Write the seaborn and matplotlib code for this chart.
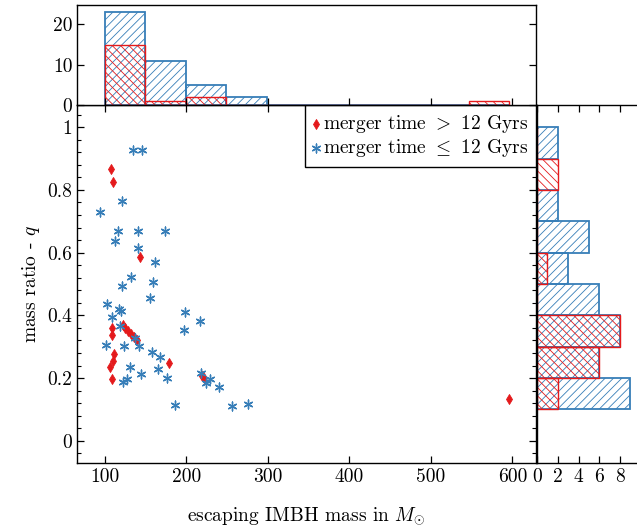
import numpy as np
import matplotlib
matplotlib.use("Agg")
import matplotlib.pyplot as plt
import seaborn as sns
from matplotlib.ticker import MultipleLocator

# ---------------- data ----------------
red_mass = [107.5, 110, 143.5, 108.5, 108.5, 122, 125, 128.5, 132, 136, 139.5,
            111.5, 110, 106, 109, 179, 219.5, 222, 596]
red_q = [0.867, 0.826, 0.586, 0.361, 0.336, 0.368, 0.360, 0.351, 0.342, 0.332, 0.322,
         0.276, 0.254, 0.236, 0.198, 0.249, 0.207, 0.201, 0.133]

blue_mass = [134, 145, 121, 94, 116, 140, 174, 112, 140.5, 161, 132, 158.5, 121, 155,
             103, 117.5, 119.5, 198.5, 109, 217, 118, 196.5, 137, 101, 123, 142, 157.5,
             167, 130.5, 165.5, 144, 218, 127.5, 122.5, 176.5, 229, 224, 239.5, 185.5,
             256, 276]
blue_q = [0.926, 0.926, 0.765, 0.729, 0.668, 0.668, 0.668, 0.637, 0.614, 0.569, 0.523,
          0.506, 0.493, 0.455, 0.436, 0.421, 0.414, 0.412, 0.394, 0.381, 0.366, 0.352,
          0.327, 0.305, 0.302, 0.302, 0.284, 0.268, 0.236, 0.228, 0.213, 0.217, 0.198,
          0.188, 0.199, 0.196, 0.183, 0.170, 0.113, 0.111, 0.117]

label_red = r"merger time $>$ 12 Gyrs"
label_blue = r"merger time $\leq$ 12 Gyrs"
xlabel_text = r"escaping IMBH mass in $M_{\odot}$"
ylabel_text = "mass ratio - $q$"

mass_ticks = [100, 200, 300, 400, 500, 600]
mass_tick_labels = ["100", "200", "300", "400", "500", "600"]
q_ticks = [0, 0.2, 0.4, 0.6, 0.8, 1.0]
q_tick_labels = ["0", "0.2", "0.4", "0.6", "0.8", "1"]
top_count_ticks = [0, 10, 20]
right_count_ticks = [0, 2, 4, 6, 8]

mass_bins = np.linspace(100, 596, 11)
q_bins = np.linspace(0.1, 1.0, 10)

RED = "#e41a1c"
BLUE = "#377eb8"

# ---------------- style ----------------
plt.rcParams.update({
    "font.family": ["cmr10", "DejaVu Serif"],
    "mathtext.fontset": "cm",
    "axes.formatter.use_mathtext": True,
    "font.size": 14,
    "hatch.linewidth": 0.6,
    "axes.linewidth": 1.0,
    "axes.edgecolor": "black",
    "text.color": "black",
    "xtick.color": "black",
    "ytick.color": "black",
})

W, H = 637, 531
fig = plt.figure(figsize=(W / 100, H / 100), dpi=100)
left, right_main, top_main, bottom_main = 77.3, 536.0, 105.0, 463.0
ax_main = fig.add_axes([left / W, (H - bottom_main) / H, (right_main - left) / W,
                        (bottom_main - top_main) / H])
ax_top = fig.add_axes([left / W, (H - top_main) / H, (right_main - left) / W,
                       (top_main - 5) / H])
ax_right = fig.add_axes([537.0 / W, (H - bottom_main) / H, (W - 537.0) / W,
                         (bottom_main - top_main) / H])

# ---------------- scatter ----------------
sns.scatterplot(x=red_mass, y=red_q, ax=ax_main, marker="d", s=26, color=RED,
                edgecolor=RED, linewidth=0.6, label=label_red, zorder=3)
sns.scatterplot(x=blue_mass, y=blue_q, ax=ax_main, marker=(6, 2, 0), s=40,
                color=BLUE, edgecolor=BLUE, linewidth=1.0, label=label_blue, zorder=4)

xlim = (66.0, 629.0)
ylim = (-0.071, 1.071)
ax_main.set_xlim(*xlim)
ax_main.set_ylim(*ylim)
ax_main.set_xticks(mass_ticks)
ax_main.set_xticklabels(mass_tick_labels)
ax_main.set_yticks(q_ticks)
ax_main.set_yticklabels(q_tick_labels)
ax_main.yaxis.set_minor_locator(MultipleLocator(0.04))
ax_main.tick_params(which="both", direction="in", top=True, right=True)
ax_main.tick_params(which="major", length=5, width=0.9)
ax_main.tick_params(which="minor", length=3, width=0.8)
ax_main.set_xlabel(xlabel_text)
ax_main.set_ylabel(ylabel_text)
ax_main.xaxis.set_label_coords(0.5, -0.118)
ax_main.yaxis.set_label_coords(-0.078, 0.5)

leg = ax_main.legend(loc="upper right", borderaxespad=0, fancybox=False,
                     edgecolor="black", framealpha=1, handlelength=0.4,
                     handletextpad=0.12, borderpad=0.4, labelspacing=0.12,
                     fontsize=14)
leg.get_frame().set_linewidth(1.0)

# ---------------- top histogram ----------------
sns.histplot(x=np.clip(blue_mass, mass_bins[0], mass_bins[-1]), bins=mass_bins,
             ax=ax_top, fill=False, color=BLUE, hatch="////", linewidth=1.3)
sns.histplot(x=np.clip(red_mass, mass_bins[0], mass_bins[-1]), bins=mass_bins,
             ax=ax_top, fill=False, color=RED, hatch="\\\\\\\\", linewidth=1.0)
ax_top.set_xlim(*xlim)
ax_top.set_ylim(0, 24.8)
ax_top.set_xticks(mass_ticks)
ax_top.set_yticks(top_count_ticks)
ax_top.set_yticklabels([str(t) for t in top_count_ticks])
ax_top.tick_params(which="both", direction="in", right=True, labelbottom=False,
                   length=5, width=0.9)
ax_top.set_xlabel("")
ax_top.set_ylabel("")

# ---------------- right histogram ----------------
sns.histplot(y=blue_q, bins=q_bins, ax=ax_right, fill=False, color=BLUE,
             hatch="////", linewidth=1.3)
sns.histplot(y=red_q, bins=q_bins, ax=ax_right, fill=False, color=RED,
             hatch="\\\\\\\\", linewidth=1.0)
ax_right.set_ylim(*ylim)
ax_right.set_xlim(0, 9.63)
ax_right.set_xticks(right_count_ticks)
ax_right.set_xticklabels([str(t) for t in right_count_ticks])
ax_right.set_yticks([])
ax_right.tick_params(which="both", direction="in", top=True, length=5, width=0.9)
ax_right.spines["right"].set_visible(False)
ax_right.set_xlabel("")
ax_right.set_ylabel("")

fig.savefig("out.png", dpi=100)
